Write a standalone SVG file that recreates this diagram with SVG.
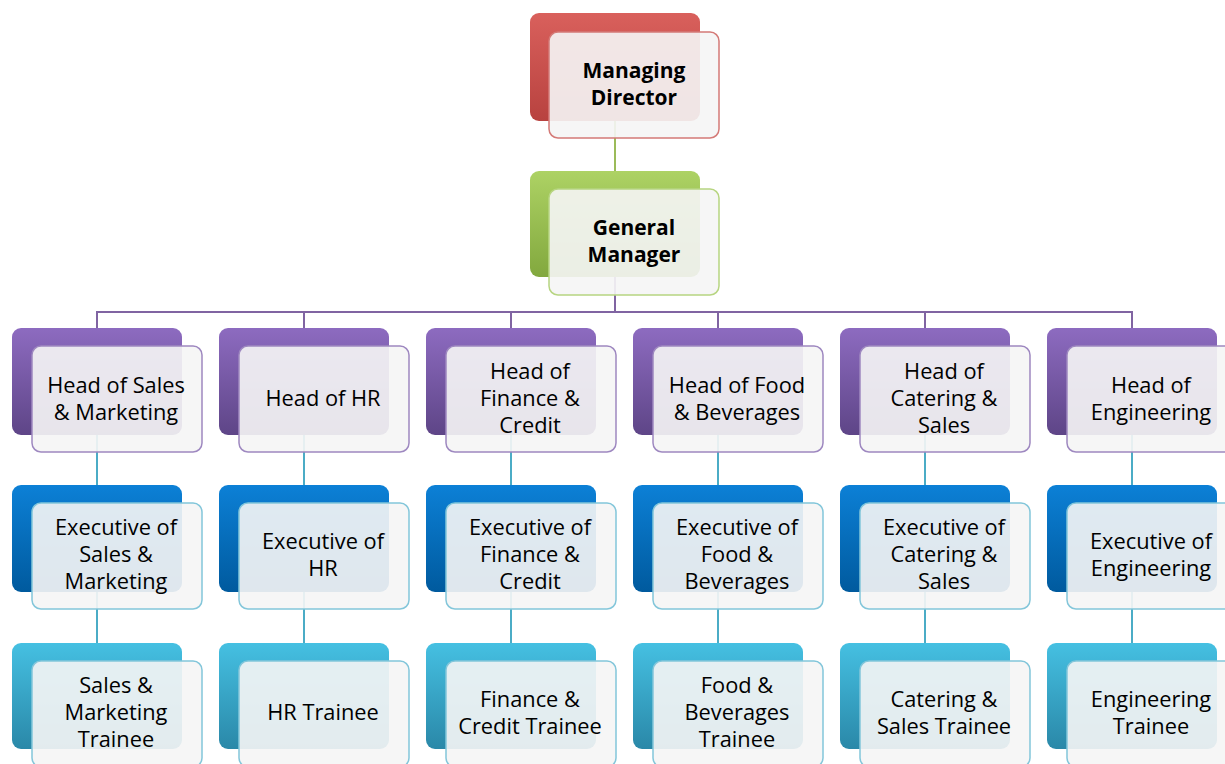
<svg xmlns="http://www.w3.org/2000/svg" width="1225" height="764" viewBox="0 0 1225 764">
<defs>
<linearGradient id="gRed" x1="0" y1="0" x2="0" y2="1"><stop offset="0" stop-color="#D9605C"/><stop offset="1" stop-color="#B8423F"/></linearGradient>
<linearGradient id="gGreen" x1="0" y1="0" x2="0" y2="1"><stop offset="0" stop-color="#ADD264"/><stop offset="1" stop-color="#82A83E"/></linearGradient>
<linearGradient id="gPurple" x1="0" y1="0" x2="0" y2="1"><stop offset="0" stop-color="#8D6BC0"/><stop offset="1" stop-color="#5E4587"/></linearGradient>
<linearGradient id="gBlue" x1="0" y1="0" x2="0" y2="1"><stop offset="0" stop-color="#0C80D6"/><stop offset="1" stop-color="#005A9E"/></linearGradient>
<linearGradient id="gCyan" x1="0" y1="0" x2="0" y2="1"><stop offset="0" stop-color="#45C0E2"/><stop offset="1" stop-color="#2A88A8"/></linearGradient>
</defs>
<style>
.back{rx:9px;ry:9px}
.front{fill:#F5F5F5;fill-opacity:0.91;stroke-width:1.5;rx:9px;ry:9px}
.fRed{stroke:#D47A77}
.fGreen{stroke:#B7D581}
.fPurple{stroke:#9E88C0}
.fCyan{stroke:#83C6DA}
text{font-family:"Open Sans","Liberation Sans",sans-serif;font-size:21.8px;fill:#000;text-anchor:middle}
.b{font-weight:bold;font-size:21px}
.cG{stroke:#9BBB59;stroke-width:2;fill:none}
.cP{stroke:#8064A2;stroke-width:2;fill:none}
.cC{stroke:#4BACC6;stroke-width:2;fill:none}
</style>
<g id="connectors">
<line class="cG" x1="615" y1="121" x2="615" y2="171"/>
<path class="cP" d="M615 277V312M97 328V312H1132V328M304 312V328M511 312V328M718 312V328M925 312V328"/>
<path class="cC" d="M97 435V485M97 592V643M304 435V485M304 592V643M511 435V485M511 592V643M718 435V485M718 592V643M925 435V485M925 592V643M1132 435V485M1132 592V643"/>
</g>
<g id="md"><rect class="back" x="530" y="13" width="170" height="108" fill="url(#gRed)"/><rect class="front fRed" x="549" y="32" width="170" height="106"/><text class="b" x="634" y="78">Managing</text><text class="b" x="634" y="105">Director</text></g>
<g id="gm"><rect class="back" x="530" y="171" width="170" height="106" fill="url(#gGreen)"/><rect class="front fGreen" x="549" y="189" width="170" height="106"/><text class="b" x="634" y="235">General</text><text class="b" x="634" y="262">Manager</text></g>

<g id="head-sales"><rect class="back" x="12" y="328" width="170" height="107" fill="url(#gPurple)"/><rect class="front fPurple" x="32" y="346" width="170" height="106"/><text x="116" y="393">Head of Sales</text><text x="116" y="420">&amp; Marketing</text></g>
<g id="head-hr"><rect class="back" x="219" y="328" width="170" height="107" fill="url(#gPurple)"/><rect class="front fPurple" x="239" y="346" width="170" height="106"/><text x="323" y="406">Head of HR</text></g>
<g id="head-finance"><rect class="back" x="426" y="328" width="170" height="107" fill="url(#gPurple)"/><rect class="front fPurple" x="446" y="346" width="170" height="106"/><text x="530" y="379">Head of</text><text x="530" y="406">Finance &amp;</text><text x="530" y="433">Credit</text></g>
<g id="head-food"><rect class="back" x="633" y="328" width="170" height="107" fill="url(#gPurple)"/><rect class="front fPurple" x="653" y="346" width="170" height="106"/><text x="737" y="393">Head of Food</text><text x="737" y="420">&amp; Beverages</text></g>
<g id="head-catering"><rect class="back" x="840" y="328" width="170" height="107" fill="url(#gPurple)"/><rect class="front fPurple" x="860" y="346" width="170" height="106"/><text x="944" y="379">Head of</text><text x="944" y="406">Catering &amp;</text><text x="944" y="433">Sales</text></g>
<g id="head-eng"><rect class="back" x="1047" y="328" width="170" height="107" fill="url(#gPurple)"/><rect class="front fPurple" x="1067" y="346" width="170" height="106"/><text x="1151" y="393">Head of</text><text x="1151" y="420">Engineering</text></g>

<g id="exec-sales"><rect class="back" x="12" y="485" width="170" height="107" fill="url(#gBlue)"/><rect class="front fCyan" x="32" y="503" width="170" height="106"/><text x="116" y="535">Executive of</text><text x="116" y="562">Sales &amp;</text><text x="116" y="589">Marketing</text></g>
<g id="exec-hr"><rect class="back" x="219" y="485" width="170" height="107" fill="url(#gBlue)"/><rect class="front fCyan" x="239" y="503" width="170" height="106"/><text x="323" y="549">Executive of</text><text x="323" y="576">HR</text></g>
<g id="exec-finance"><rect class="back" x="426" y="485" width="170" height="107" fill="url(#gBlue)"/><rect class="front fCyan" x="446" y="503" width="170" height="106"/><text x="530" y="535">Executive of</text><text x="530" y="562">Finance &amp;</text><text x="530" y="589">Credit</text></g>
<g id="exec-food"><rect class="back" x="633" y="485" width="170" height="107" fill="url(#gBlue)"/><rect class="front fCyan" x="653" y="503" width="170" height="106"/><text x="737" y="535">Executive of</text><text x="737" y="562">Food &amp;</text><text x="737" y="589">Beverages</text></g>
<g id="exec-catering"><rect class="back" x="840" y="485" width="170" height="107" fill="url(#gBlue)"/><rect class="front fCyan" x="860" y="503" width="170" height="106"/><text x="944" y="535">Executive of</text><text x="944" y="562">Catering &amp;</text><text x="944" y="589">Sales</text></g>
<g id="exec-eng"><rect class="back" x="1047" y="485" width="170" height="107" fill="url(#gBlue)"/><rect class="front fCyan" x="1067" y="503" width="170" height="106"/><text x="1151" y="549">Executive of</text><text x="1151" y="576">Engineering</text></g>

<g id="trainee-sales"><rect class="back" x="12" y="643" width="170" height="106" fill="url(#gCyan)"/><rect class="front fCyan" x="32" y="661" width="170" height="106"/><text x="116" y="693">Sales &amp;</text><text x="116" y="720">Marketing</text><text x="116" y="747">Trainee</text></g>
<g id="trainee-hr"><rect class="back" x="219" y="643" width="170" height="106" fill="url(#gCyan)"/><rect class="front fCyan" x="239" y="661" width="170" height="106"/><text x="323" y="720">HR Trainee</text></g>
<g id="trainee-finance"><rect class="back" x="426" y="643" width="170" height="106" fill="url(#gCyan)"/><rect class="front fCyan" x="446" y="661" width="170" height="106"/><text x="530" y="707">Finance &amp;</text><text x="530" y="734">Credit Trainee</text></g>
<g id="trainee-food"><rect class="back" x="633" y="643" width="170" height="106" fill="url(#gCyan)"/><rect class="front fCyan" x="653" y="661" width="170" height="106"/><text x="737" y="693">Food &amp;</text><text x="737" y="720">Beverages</text><text x="737" y="747">Trainee</text></g>
<g id="trainee-catering"><rect class="back" x="840" y="643" width="170" height="106" fill="url(#gCyan)"/><rect class="front fCyan" x="860" y="661" width="170" height="106"/><text x="944" y="707">Catering &amp;</text><text x="944" y="734">Sales Trainee</text></g>
<g id="trainee-eng"><rect class="back" x="1047" y="643" width="170" height="106" fill="url(#gCyan)"/><rect class="front fCyan" x="1067" y="661" width="170" height="106"/><text x="1151" y="707">Engineering</text><text x="1151" y="734">Trainee</text></g>
</svg>
